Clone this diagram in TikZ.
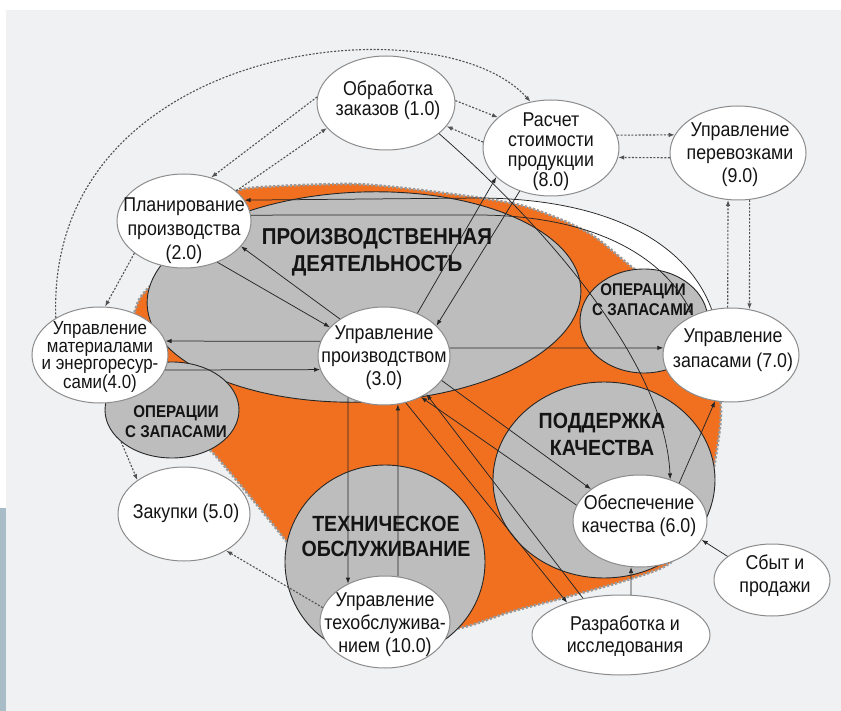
\documentclass[tikz,border=0pt]{standalone}
\usepackage{fontspec}
\setmainfont[FakeStretch=0.89]{Liberation Sans}
\usetikzlibrary{shapes.geometric,arrows.meta}
\definecolor{bgc}{HTML}{EFF1F3}
\definecolor{barc}{HTML}{A8BDC7}
\definecolor{orng}{HTML}{F07020}
\definecolor{gfill}{HTML}{BDBDBD}
\definecolor{dotc}{HTML}{9A9A9A}
\begin{document}
\begin{tikzpicture}[x=1pt,y=-1pt,
  wnode/.style={ellipse,draw=black!45,line width=1pt,fill=white,inner sep=0pt},
  gnode/.style={ellipse,draw=black!85,line width=0.9pt,fill=gfill,inner sep=0pt},
  txt/.style={align=center,inner sep=0pt,text=black!92,font=\fontsize{20}{23}\selectfont},
  big/.style={align=center,inner sep=0pt,text=black!92,font=\bfseries\fontsize{23}{27}\selectfont},
  mid/.style={align=center,inner sep=0pt,text=black!92,font=\bfseries\fontsize{22}{25}\selectfont},
  sm/.style={align=center,inner sep=0pt,text=black!92,font=\bfseries\fontsize{17}{20}\selectfont},
  sl/.style={draw=black!85,line width=0.75pt,-{Latex[length=6pt,width=4.5pt]}},
  dl/.style={draw=black!68,line width=1.1pt,dash pattern=on 2pt off 1.6pt,-{Latex[length=6pt,width=4.5pt]}},
]
\useasboundingbox (0,0) rectangle (841,711);
\fill[white] (0,0) rectangle (841,711);
\fill[bgc] (6,10) rectangle (841,711);
\fill[barc] (0,508) rectangle (6,711);
% white band under the outer curve
\fill[white] (250,199) -- (480,198) .. controls (620,199) and (690,250) .. (712,310) -- (700,420) -- (250,300) -- cycle;
% orange area
\draw[fill=orng,draw=dotc,line width=2.6pt,dash pattern=on 2.4pt off 1.8pt]
  plot[smooth cycle,tension=0.45] coordinates {(250,188) (350,184) (420,190) (520,205) (587,232) (633,268) (690,312) (714,365) (721,410) (716,455) (702,522) (670,563) (627,580) (563,598) (510,612) (460,628) (400,632) (330,600) (287,542) (213,453) (160,405) (133,335) (138,302) (152,284) (170,264) (200,238) (228,198)};
% grey areas
\node[gnode,minimum width=434pt,minimum height=210pt,rotate=2] (gP) at (364,297) {};
\node[gnode,minimum width=128pt,minimum height=104pt] (gOR) at (644,321) {};
\node[gnode,minimum width=134pt,minimum height=96pt] (gOL) at (172,410) {};
\node[gnode,minimum width=222pt,minimum height=196pt] (gQ) at (604,480) {};
\node[gnode,minimum width=200pt,minimum height=194pt] (gT) at (385,562) {};
\node[big] (lP) at (377,252) {ПРОИЗВОДСТВЕННАЯ\\ДЕЯТЕЛЬНОСТЬ};
\node[sm] (lOR) at (643,300) {ОПЕРАЦИИ\\С ЗАПАСАМИ};
\node[sm] (lOL) at (176,422) {ОПЕРАЦИИ\\С ЗАПАСАМИ};
\node[mid,font=\bfseries\fontsize{22}{27}\selectfont] (lQ) at (602,434) {ПОДДЕРЖКА\\КАЧЕСТВА};
\node[mid] (lT) at (386,536) {ТЕХНИЧЕСКОЕ\\ОБСЛУЖИВАНИЕ};
% white process nodes
\node[wnode,minimum width=138pt,minimum height=94pt] (e1) at (386,103) {};
\node[wnode,minimum width=136pt,minimum height=96pt] (e8) at (551,148) {};
\node[wnode,minimum width=136pt,minimum height=94pt] (e9) at (738,153) {};
\node[wnode,minimum width=134pt,minimum height=94pt] (e2) at (184,221) {};
\node[wnode,minimum width=136pt,minimum height=96pt] (e4) at (100,355) {};
\node[wnode,minimum width=132pt,minimum height=98pt] (e3) at (384,356) {};
\node[wnode,minimum width=136pt,minimum height=94pt] (e7) at (731,355) {};
\node[wnode,minimum width=132pt,minimum height=94pt] (e5) at (184,514) {};
\node[wnode,minimum width=134pt,minimum height=92pt] (e6) at (640,521) {};
\node[wnode,minimum width=130pt,minimum height=92pt] (e10) at (385,622) {};
\node[wnode,minimum width=178pt,minimum height=80pt] (eR) at (621,635) {};
\node[wnode,minimum width=116pt,minimum height=72pt] (eS) at (772,580) {};
% texts
\node[txt,font=\fontsize{20}{20}\selectfont] (t1) at (388,100) {Обработка\\заказов (1.0)};
\node[txt,font=\fontsize{20}{20}\selectfont] (t8) at (551,152) {Расчет\\стоимости\\продукции\\(8.0)};
\node[txt] (t9) at (740,155) {Управление\\перевозками\\(9.0)};
\node[txt,font=\fontsize{20}{24}\selectfont] (t2) at (184,231) {Планирование\\производства\\(2.0)};
\node[txt,font=\fontsize{19}{17.5}\selectfont] (t4) at (100,357) {Управление\\материалами\\и энергоресур-\\сами(4.0)};
\node[txt] (t3) at (384,358) {Управление\\производством\\(3.0)};
\node[txt,font=\fontsize{20}{25}\selectfont] (t7) at (733,350) {Управление\\запасами (7.0)};
\node[txt] (t5) at (186,513) {Закупки (5.0)};
\node[txt] (t6) at (639,516) {Обеспечение\\качества (6.0)};
\node[txt] (t10) at (385,625) {Управление\\техобслужива-\\нием (10.0)};
\node[txt,font=\fontsize{20}{22}\selectfont] (tR) at (625,636) {Разработка и\\исследования};
\node[txt] (tS) at (775,576) {Сбыт и\\продажи};
% dotted connectors
\draw[dl] (e4.140) .. controls (45,40) and (440,0) .. (e8.114);
\draw[dl] (e1.175) -- (e2.58);
\draw[dl] (e2.30) -- (e1.203);
\draw[dl] (e1.2) -- (e8.150);
\draw[dl] (e8.175) -- (e1.-21);
\draw[dl] (e8.11) -- (e9.164);
\draw[dl] (e9.184) -- (e8.-8);
\draw[dl] (e7.94) -- (e9.258);
\draw[dl] (e9.284) -- (e7.68);
\draw[dl] (e2.213) -- (e4.84);
\draw[dl] (gOL.212) -- (e5.144);
\draw[dl] (e10.167) -- (e5.-41);
% solid connectors
\draw[sl] (e2.-51) -- (e3.152);
\draw[sl] (e3.140) -- (e2.-24);
\draw[sl] (e3.167) -- (e4.12);
\draw[sl] (e4.-13) -- (e3.192);
\draw[sl] (e3.52) -- (e8.208);
\draw[sl] (e8.234) -- (e3.30);
\draw[sl] (e3.7) -- (e7.174);
\draw[sl] (e3.229) -- (e10.134);
\draw[sl] (e10.74) -- (e3.-74);
\draw[sl] (e3.-23) -- (e6.147);
\draw[sl] (e6.166) -- (e3.-48);
\draw[sl] (eR.136) -- (e3.-42);
\draw[sl] (e3.-65) -- (eR.149);
\draw[sl] (eR.76) -- (e6.259);
\draw[sl] (eS.152) -- (e6.-17);
\draw[sl] (e6.44) -- (e7.251);
\draw[sl] (e1.-30) .. controls (540,222) and (665,360) .. (e6.54);
\draw[sl] (e7.113) .. controls (690,250) and (620,199) .. (480,198) -- (e2.19);
\draw[sl] (e2.5) -- (480,215) .. controls (600,216) and (665,260) .. (e7.134);
\end{tikzpicture}
\end{document}
